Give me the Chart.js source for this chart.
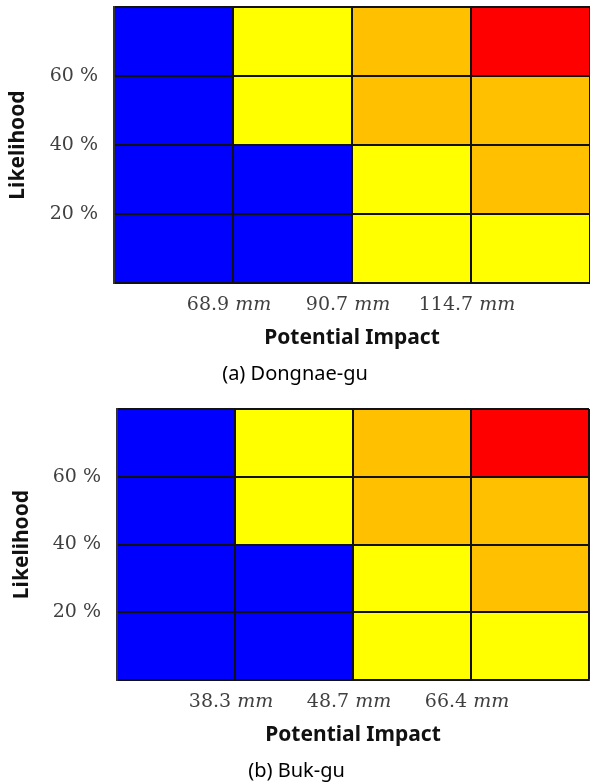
<!DOCTYPE html>
<html>
<head>
<meta charset="utf-8">
<title>Risk matrix</title>
<script src="https://cdn.jsdelivr.net/npm/chart.js@4.4.1/dist/chart.umd.min.js"></script>
<style>
  body { margin: 0; background: #fff; }
  canvas { display: block; }
</style>
</head>
<body>
<canvas id="chartA" width="590" height="390"></canvas>
<canvas id="chartB" width="590" height="393"></canvas>
<script>
// likelihood bands, bottom to top (%)
const rowHeights = [20, 20, 20, 20];
const likelihoodTicks = [20, 40, 60];

// impact thresholds (mm) between the columns
const impactTicksA = ['68.9', '90.7', '114.7'];
const impactTicksB = ['38.3', '48.7', '66.4'];

// risk level per cell, rows from the bottom (1 = low .. 4 = high)
const riskRowsA = [[1, 1, 2, 2], [1, 1, 2, 3], [1, 2, 3, 3], [1, 2, 3, 4]];
const riskRowsB = [[1, 1, 2, 2], [1, 1, 2, 3], [1, 2, 3, 3], [1, 2, 3, 4]];

const riskColors = ['#0000ff', '#ffff00', '#ffc000', '#ff0000'];

const captionA = '(a) Dongnae-gu';
const captionB = '(b) Buk-gu';

// x labels: number upright, unit in italic (like the figure)
const impactLabelPlugin = {
  id: 'impactLabels',
  afterDraw(chart, args, opts) {
    const xs = chart.scales.x;
    const ctx = chart.ctx;
    ctx.save();
    ctx.fillStyle = '#404040';
    ctx.textBaseline = 'middle';
    ctx.textAlign = 'left';
    const y = xs.top + 22;
    opts.labels.forEach((num, i) => {
      ctx.font = '19px "DejaVu Serif"';
      const w1 = ctx.measureText(num + ' ').width;
      ctx.font = 'italic 19px "DejaVu Serif"';
      const w2 = ctx.measureText('mm').width;
      const cx = xs.getPixelForValue(i + 1) - 4;
      let x = cx - (w1 + w2) / 2;
      ctx.font = '19px "DejaVu Serif"';
      ctx.fillText(num, x, y);
      ctx.font = 'italic 19px "DejaVu Serif"';
      ctx.fillText('mm', x + w1, y);
    });
    ctx.restore();
  }
};

// cell outlines come from the grid, drawn above the bars
const cellGrid = { display: true, offset: false, z: 1, color: '#111', lineWidth: 2, drawTicks: false };

function makeChart(id, riskRows, impactLabels, caption, pad, axisWidth) {
  const datasets = rowHeights.map((h, r) => ({
    data: riskRows[r].map((lvl, c) => ({ x: c + 0.5, y: h })),
    backgroundColor: riskRows[r].map(lvl => riskColors[lvl - 1]),
    borderWidth: 0,
    barPercentage: 1,
    categoryPercentage: 1
  }));

  const ctx = document.getElementById(id).getContext('2d');
  return new Chart(ctx, {
    type: 'bar',
    data: { datasets: datasets },
    plugins: [impactLabelPlugin],
    options: {
      responsive: false,
      animation: false,
      layout: { padding: pad },
      scales: {
        x: {
          type: 'linear',
          stacked: true,
          offset: false,
          min: 0,
          max: riskRows[0].length,
          grid: cellGrid,
          border: { display: true, color: '#333', width: 2, z: 1 },
          ticks: { display: false, stepSize: 1 },
          afterFit: (scale) => {
            scale.height = 72;
            scale.paddingLeft = 0;
            scale.paddingRight = 0;
          },
          title: {
            display: true,
            text: 'Potential Impact',
            color: '#111',
            font: { family: 'Noto Sans', size: 21, weight: 'bold', lineHeight: 1.2 },
            padding: { top: 4, bottom: 4 }
          }
        },
        y: {
          stacked: true,
          min: 0,
          max: rowHeights.reduce((a, b) => a + b, 0),
          grid: cellGrid,
          border: { display: true, color: '#333', width: 2, z: 1 },
          afterFit: (scale) => {
            scale.width = axisWidth;
            scale.paddingTop = 0;
            scale.paddingBottom = 0;
          },
          ticks: {
            stepSize: 20,
            padding: 16,
            color: '#404040',
            font: { family: 'DejaVu Serif', size: 19 },
            callback: (v) => likelihoodTicks.includes(v) ? v + ' %' : ''
          },
          title: {
            display: true,
            text: 'Likelihood',
            color: '#111',
            font: { family: 'Noto Sans', size: 21, weight: 'bold', lineHeight: 1.2 },
            padding: { top: 5, bottom: 4 }
          }
        }
      },
      plugins: {
        legend: { display: false },
        tooltip: { enabled: false },
        title: {
          display: true,
          position: 'bottom',
          text: caption,
          color: '#000',
          font: { family: 'Noto Sans', size: 20, weight: 'normal', lineHeight: 1.2 },
          padding: { top: 7, bottom: 0 }
        },
        impactLabels: { labels: impactLabels }
      }
    }
  });
}

makeChart('chartA', riskRowsA, impactTicksA, captionA, { top: 7, left: 0, right: 0, bottom: 4 }, 114);
makeChart('chartB', riskRowsB, impactTicksB, captionB, { top: 19, left: 4, right: 1, bottom: 0 }, 113);
</script>
</body>
</html>
